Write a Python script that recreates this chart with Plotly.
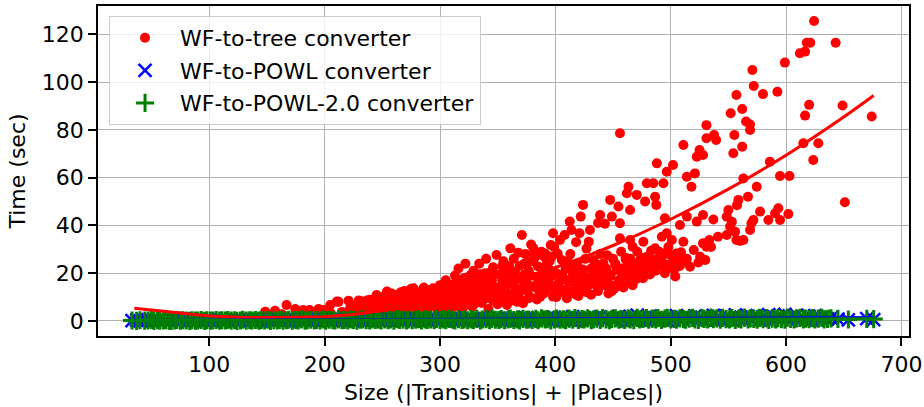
import plotly.graph_objects as go

# ---------------- data ----------------
# WF-to-tree converter: model size vs. time (sec)
tree_size = [
    35, 40, 45, 52, 58, 64, 70, 77, 84, 90, 97, 104, 110, 117, 123, 130, 136, 142,
    148.5, 152, 157, 163, 167, 174.5, 178, 181.5, 187, 190, 194.7, 199,
    204.8, 205, 210.6, 212, 215, 220.7, 222, 226, 229.4, 231, 233, 235, 236.6, 238, 240,
    241, 243, 245, 246.7, 247, 250, 251, 252.5, 253, 254, 256, 258, 261, 261.5, 262,
    265, 267, 269, 271, 273, 275, 277, 278, 279, 280, 282, 284, 286, 288, 290, 292,
    294, 296, 298, 299, 300, 302, 304, 305, 307, 309, 311, 313, 314, 315, 316, 317,
    319, 320, 322, 323, 325, 326, 328, 329, 331, 333, 334, 336, 338, 339, 340, 342,
    343, 345, 346, 348, 349, 350, 352, 353, 355, 356, 358, 359, 360, 361, 362, 364,
    366, 367, 369, 371, 371, 372, 374, 375, 377, 378, 379, 380, 381, 383, 384, 386,
    387, 387, 388, 388, 390, 391, 392.6, 393, 395, 396, 397, 398, 398, 399, 400,
    401, 403, 404, 405.6, 407, 408, 409, 410, 412.5, 412.5, 413, 414, 415, 417, 418,
    419, 420, 421, 422, 422, 424, 424, 426, 428, 429, 430, 431, 431, 433, 433, 435,
    437, 437, 438.8, 439, 440, 441.7, 443, 443, 444.6, 446, 447.5, 448, 449, 450, 451,
    453, 454.7, 455, 456, 456, 456, 457, 459, 462, 462, 463.4, 463, 464.8, 464.8, 465,
    467, 467, 469, 470.6, 471, 473.5, 476, 476.3, 477.8, 478, 479.3, 480, 482, 485,
    485, 486.5, 486.5, 487.5, 488, 490, 492, 492.3, 493.7, 495, 495, 496.6, 496.6, 498,
    501, 502, 502, 502, 504, 505, 508, 508, 511, 511, 514, 514, 514, 516.8, 518, 520,
    521, 522.6, 522.6, 524, 525, 525.5, 528, 528, 528, 530, 531, 531, 531, 533.5, 535,
    537, 537.6, 539.4, 541, 548.6, 548.6, 550, 551.5, 552, 553, 554.3, 555.2, 555.8,
    557, 557, 557.5, 558.7, 560, 562, 562, 563, 563, 565.3, 567, 568.8, 568.8, 568.8,
    570, 570.8, 571.7, 572, 574.6, 577.5, 580, 584.7, 586, 590.5, 592.5, 593.3, 594.8,
    594.8, 599, 602, 603, 612, 615, 616.5, 616.5, 618, 620, 621, 623.6, 624.3, 628,
    643, 649, 651, 674.3,
    226, 232, 248, 257, 263, 270, 274, 283, 287, 291, 295, 301, 306, 310, 318, 321,
    327, 330, 335, 341, 344, 351, 354, 357, 363, 365, 368, 373, 376, 382, 385, 389,
    394, 402, 406, 411, 416, 423, 427, 432, 436, 442, 445, 452, 458, 461, 466, 472,
    474, 481, 483, 489, 494, 499, 506, 509,
    228, 234, 239, 244, 249, 255, 259, 264, 266, 268, 272, 276, 281, 285, 289, 293,
    297, 303, 306, 308, 312, 316, 318, 321, 324, 327, 330, 332, 335, 337, 341, 344,
    347, 351, 354, 357, 360, 363, 365, 368, 370, 373, 376, 379, 382, 385, 389, 392,
    394, 397, 402, 406, 411, 416, 419, 425, 429, 434, 438, 444, 448, 452, 458, 461,
    466, 470, 475, 479, 484, 489, 497, 503, 507,
    300, 304, 310, 313, 319, 322, 326, 331, 334, 338, 342, 346, 349, 352, 355, 358,
    362, 366, 369, 373, 377, 380, 384, 387, 390, 394, 398, 401, 404, 408, 411, 414,
    418, 421, 424, 427, 432, 436, 440, 445, 449, 454, 457, 460, 464, 468, 472, 477,
    481, 487, 493, 500, 510,
]
tree_time = [
    0.5, 0.6, 0.4, 0.7, 0.5, 0.8, 0.6, 0.9, 0.7, 1.0, 0.8, 1.1, 0.9, 1.2, 1.0, 1.3, 1.1, 1.4,
    3.9, 2.5, 4.3, 2.8, 6.7, 5.0, 3.0, 4.6, 4.6, 2.9, 5.0, 4.6,
    6.7, 3.5, 8.1, 8.0, 3.8, 8.5, 5.3, 4.0, 8.6, 8.4, 5.0, 4.2, 8.6, 6.5, 6.0,
    4.3, 9.0, 10.9, 10.0, 7.0, 4.5, 7.0, 10.7, 9.5, 12.3, 5.5, 11.5, 9.6, 8.0, 4.2,
    6.0, 10.0, 12.5, 4.5, 8.0, 13.5, 13.7, 6.0, 10.5, 4.3, 12.0, 7.5, 14.0, 5.0, 9.5, 12.0,
    13.7, 6.5, 4.5, 10.5, 15.0, 8.0, 12.5, 17.0, 5.0, 10.0, 14.0, 19.0, 7.0, 16.5, 22.0, 12.0,
    16.0, 5.5, 24.0, 9.0, 13.5, 19.0, 6.0, 21.0, 11.0, 16.0, 24.0, 7.5, 13.0, 20.0, 26.0, 5.0,
    9.5, 17.0, 22.5, 12.0, 27.6, 7.0, 19.5, 14.5, 25.0, 9.0, 6.7, 21.0, 16.0, 30.4, 11.0, 26.0,
    18.0, 8.0, 23.0, 36.0, 13.0, 7.4, 28.0, 16.0, 21.0, 10.0, 32.0, 25.0, 30.4, 14.0, 18.5, 11.0,
    10.2, 13.0, 22.0, 29.0, 27.0, 28.3, 24.1, 15.0, 25.0, 31.8, 19.0, 36.7, 10.2, 31.0, 13.0,
    20.0, 16.0, 33.9, 25.5, 13.0, 36.0, 22.0, 9.5, 11.7, 41.6, 28.0, 38.1, 18.6, 15.0, 33.0,
    24.0, 10.5, 36.7, 20.0, 43.7, 13.0, 48.6, 26.0, 17.0, 33.2, 38.1, 11.0, 22.0, 15.8, 25.5, 19.0,
    41.0, 12.5, 44.4, 28.0, 21.0, 24.1, 15.0, 40.7, 16.7, 11.5, 50.7, 19.0, 43.7, 26.0, 13.5,
    21.4, 47.9, 17.0, 40.9, 34.6, 78.6, 29.0, 14.0, 22.7, 53.5, 56.2, 18.5, 46.5, 33.9, 26.0,
    15.0, 31.1, 20.0, 52.8, 29.0, 25.5, 17.9, 33.2, 50.0, 22.0, 57.7, 27.0, 19.5, 25.5,
    57.7, 52.0, 30.4, 48.6, 66.0, 29.0, 26.0, 35.3, 57.7, 20.0, 43.0, 62.5, 36.7, 31.0,
    33.9, 26.9, 65.3, 24.1, 18.6, 28.3, 23.0, 40.2, 33.2, 73.7, 60.4, 26.0, 43.7, 22.7, 56.2, 29.7,
    61.8, 68.8, 41.6, 24.5, 71.6, 26.9, 32.5, 69.5, 44.4, 25.5, 82.0, 76.5, 31.1, 33.9, 31.0,
    42.5, 77.9, 75.8, 35.3, 36.0, 43.7, 46.5, 39.5, 87.0, 41.5, 70.2, 77.9, 37.4,
    33.9, 94.6, 48.5, 50.7, 33.5, 73.0, 88.8, 33.9, 59.7, 83.5, 52.0, 38.1, 82.3, 80.0,
    40.9, 105.1, 42.3, 98.4, 56.2, 45.8, 95.0, 42.3, 66.7, 45.1, 96.0, 47.2, 42.3,
    60.7, 108.2, 44.8, 60.7, 112.1, 74.4, 112.8, 86.0, 116.5, 90.5, 116.5, 67.4, 125.6, 74.4,
    116.5, 90.2, 49.7, 85.6,
    6.2, 6.9, 8.3, 7.8, 11.0, 9.0, 11.2, 9.8, 11.6, 6.0, 8.7, 12.8, 9.2, 15.2, 8.6, 18.0,
    11.8, 16.2, 19.6, 14.2, 20.5, 13.2, 23.0, 17.8, 20.1, 14.1, 28.6, 19.3, 24.5, 27.9, 22.8, 17.2,
    20.6, 28.2, 18.4, 25.0, 20.4, 16.0, 30.3, 18.9, 23.6, 19.2, 27.5, 23.4, 21.8, 25.8, 21.9, 18.2,
    23.1, 24.0, 29.4, 23.8, 28.1, 22.4, 25.3, 28.8,
    6.8, 7.2, 8.9, 5.2, 8.8, 6.4, 10.2, 8.5, 12.0, 5.2, 11.0, 9.2, 7.0, 11.2, 13.0, 8.2,
    12.2, 10.5, 14.5, 7.2, 12.0, 9.0, 13.5, 11.5, 16.5, 8.2, 14.0, 19.0, 10.2, 17.0, 12.5, 15.0,
    19.5, 10.5, 17.0, 12.5, 23.0, 15.5, 20.5, 11.5, 17.5, 24.0, 12.5, 19.0, 26.5, 16.0, 19.5, 13.0,
    22.0, 27.0, 14.5, 19.5, 16.5, 22.5, 13.5, 19.0, 15.0, 21.5, 17.0, 22.0, 15.0, 24.0, 19.5, 26.5,
    22.0, 17.5, 20.5, 24.5, 21.0, 26.0, 23.5, 21.5, 26.0,
    6.5, 5.5, 8.0, 6.0, 7.0, 12.5, 10.5, 7.5, 13.5, 9.0, 18.5, 8.5, 14.0, 8.0, 13.0, 17.5,
    8.5, 13.5, 9.5, 15.0, 9.5, 14.5, 9.0, 16.5, 11.5, 17.0, 14.5, 10.0, 12.0, 17.5, 12.5, 21.5,
    11.0, 16.5, 21.5, 12.0, 18.5, 14.5, 17.5, 20.0, 12.5, 14.5, 22.0, 16.5, 21.0, 24.0, 21.5, 26.5,
    23.0, 21.0, 23.0, 27.5, 24.5,
]

# WF-to-POWL and WF-to-POWL-2.0 converters: model size vs. time (sec)
powl_size = [
    33, 37, 40, 44, 47, 50, 52, 55, 57, 60,
    62, 65, 67, 70, 72, 75, 77, 80, 83, 85,
    88, 90, 93, 96, 98, 101, 103, 106, 109, 111,
    114, 116, 119, 122, 124, 127, 129, 132, 135, 137,
    140, 143, 145, 148, 151, 153, 156, 159, 161, 164,
    167, 169, 172, 175, 177, 180, 183, 185, 188, 191,
    193, 196, 199, 201, 204, 207, 209, 212, 215, 217,
    220, 223, 225, 228, 231, 233, 236, 239, 241, 244,
    247, 249, 252, 255, 257, 260, 263, 265, 268, 271,
    273, 276, 279, 281, 284, 287, 289, 292, 295, 297,
    300, 303, 305, 308, 311, 313, 316, 319, 321, 324,
    327, 329, 332, 335, 337, 340, 343, 345, 348, 351,
    353, 356, 359, 361, 364, 367, 369, 372, 375, 377,
    380, 383, 385, 388, 391, 393, 396, 399, 401, 404,
    407, 409, 412, 415, 417, 420, 423, 425, 428, 431,
    433, 436, 439, 441, 444, 447, 449, 452, 455, 457,
    460, 463, 465, 468, 471, 473, 476, 479, 481, 484,
    487, 489, 492, 495, 497, 500, 503, 505, 508, 511,
    513, 516, 519, 521, 524, 527, 529, 532, 535, 537,
    540, 543, 545, 548, 551, 553, 556, 559, 561, 564,
    567, 569, 572, 575, 577, 580, 583, 585, 588, 591,
    593, 596, 599, 601, 604, 607, 609, 612, 615, 617,
    620, 623, 625, 628, 631, 633, 636, 639, 645, 654,
    670, 676,
]
powl_time = [
    0.1, 0.3, 0.0, 0.2, 0.4, 0.1, 0.3, 0.2, 0.0, 0.4,
    0.2, 0.1, 0.3, 0.5, 0.0, 0.2, 0.4, 0.1, 0.3, 0.2,
    0.0, 0.4, 0.2, 0.1, 0.5, 0.3, 0.0, 0.2, 0.4, 0.1,
    0.3, 0.2, 0.5, 0.0, 0.1, 0.4, 0.2, 0.6, 0.1, 0.3,
    0.2, 0.5, 0.0, 0.3, 0.1, 0.4, 0.2, 0.6, 0.3, 0.1,
    0.4, 0.0, 0.5, 0.2, 0.7, 0.1, 0.3, 0.6, 0.2, 0.4,
    0.1, 0.5, 0.3, 0.8, 0.0, 0.4, 0.6, 0.2, 0.5, 0.1,
    0.7, 0.3, 0.0, 0.5, 0.9, 0.2, 0.4, 0.6, 0.1, 0.8,
    0.3, 0.5, 0.0, 0.9, 0.2, 0.6, 0.4, 1.0, 0.1, 0.7,
    0.4, 0.2, 0.8, 0.5, 1.1, 0.0, 0.6, 0.3, 0.9, 0.2,
    0.5, 1.0, 0.1, 0.7, 0.4, 1.2, 0.2, 0.8, 0.3, 0.6,
    1.0, 0.2, 0.7, 0.4, 1.3, 0.1, 0.9, 0.5, 0.3, 1.1,
    0.6, 0.2, 1.0, 0.4, 1.5, 0.3, 0.8, 0.1, 1.2, 0.5,
    0.9, 0.3, 1.4, 0.6, 0.2, 1.1, 0.7, 1.6, 0.4, 0.9,
    0.2, 1.2, 0.6, 1.8, 0.3, 1.0, 0.5, 1.4, 0.1, 0.8,
    1.3, 0.4, 1.7, 0.7, 0.2, 1.5, 0.9, 0.3, 1.9, 0.6,
    1.1, 0.3, 1.6, 0.8, 2.4, 0.5, 1.2, 0.2, 1.8, 0.7,
    1.4, 0.4, 2.0, 0.9, 0.3, 1.6, 0.6, 2.2, 1.0, 0.5,
    1.7, 0.3, 1.2, 2.1, 0.7, 1.5, 0.4, 1.9, 0.9, 2.3,
    0.6, 1.4, 0.3, 2.0, 1.1, 0.5, 2.5, 0.8, 1.6, 0.4,
    1.9, 0.7, 1.3, 2.2, 0.5, 1.7, 0.9, 2.6, 0.3, 1.2,
    2.1, 0.6, 2.8, 1.0, 0.4, 1.8, 2.4, 0.8, 1.5, 0.5,
    1.9, 0.7, 2.2, 1.1, 0.6, 1.6, 0.9, 1.3, 0.8, 0.5,
    1.0, 0.6,
]
powl2_time = [
    0.2, 0.0, 0.3, 0.1, 0.2, 0.4, 0.0, 0.3, 0.1, 0.2,
    0.3, 0.1, 0.0, 0.2, 0.4, 0.1, 0.3, 0.2, 0.0, 0.3,
    0.1, 0.2, 0.4, 0.0, 0.3, 0.1, 0.2, 0.4, 0.1, 0.3,
    0.2, 0.4, 0.1, 0.3, 0.0, 0.2, 0.5, 0.1, 0.3, 0.2,
    0.4, 0.1, 0.3, 0.2, 0.5, 0.0, 0.3, 0.2, 0.4, 0.1,
    0.3, 0.5, 0.1, 0.4, 0.2, 0.6, 0.1, 0.3, 0.5, 0.2,
    0.4, 0.2, 0.6, 0.1, 0.5, 0.3, 0.2, 0.7, 0.3, 0.4,
    0.2, 0.6, 0.4, 0.1, 0.5, 0.7, 0.3, 0.2, 0.6, 0.4,
    0.5, 0.2, 0.7, 0.3, 0.6, 0.1, 0.8, 0.4, 0.5, 0.2,
    0.6, 0.3, 0.5, 0.8, 0.2, 0.7, 0.4, 0.6, 0.3, 0.9,
    0.4, 0.7, 0.3, 0.9, 0.5, 0.2, 0.8, 0.4, 0.6, 0.3,
    0.7, 0.4, 0.9, 0.2, 0.6, 0.8, 0.3, 1.0, 0.5, 0.4,
    0.8, 0.3, 0.6, 1.0, 0.4, 0.7, 0.2, 0.9, 0.5, 0.6,
    0.4, 0.9, 0.3, 1.1, 0.6, 0.8, 0.2, 0.7, 1.0, 0.5,
    0.7, 0.3, 1.0, 0.5, 1.2, 0.4, 0.8, 0.6, 1.1, 0.3,
    0.6, 1.0, 0.4, 1.2, 0.7, 0.3, 0.9, 1.1, 0.5, 0.8,
    0.4, 1.1, 0.7, 0.3, 1.3, 0.6, 0.9, 1.2, 0.5, 1.0,
    0.7, 1.2, 0.4, 1.0, 1.3, 0.6, 0.9, 0.5, 1.1, 0.8,
    0.5, 1.0, 1.3, 0.7, 0.4, 1.2, 0.9, 0.6, 1.4, 0.8,
    1.1, 0.5, 1.3, 0.8, 0.6, 1.2, 0.4, 1.0, 0.7, 1.4,
    0.6, 1.1, 0.9, 0.5, 1.3, 0.8, 1.2, 0.4, 1.0, 0.7,
    1.2, 0.8, 0.5, 1.4, 0.9, 0.6, 1.1, 1.3, 0.7, 1.0,
    0.8, 1.2, 0.6, 1.0, 1.3, 0.7, 0.9, 1.1, 0.9, 0.6,
    0.9, 0.8,
]

# fitted trend curves
tree_fit_size = [35, 75, 100, 125, 150, 175, 200, 250, 300, 350, 400, 450, 500, 550, 600, 650, 676]
tree_fit_time = [5.3, 3.3, 2.1, 1.6, 1.4, 1.6, 1.8, 4.3, 9.0, 14.8, 22.4, 31.6, 42.6, 55.2, 69.4, 85.4, 94.4]
powl_fit_size = [35, 676]
powl_fit_time = [0.2, 1.4]
powl2_fit_size = [35, 676]
powl2_fit_time = [0.15, 0.95]

x_ticks = [100, 200, 300, 400, 500, 600, 700]
y_ticks = [0, 20, 40, 60, 80, 100, 120]

# ---------------- figure ----------------
FONT = "DejaVu Sans"
FS = 22

fig = go.Figure()
fig.add_trace(go.Scatter(
    x=tree_size, y=tree_time, mode="markers", name="WF-to-tree converter",
    legendgroup="a",
    marker=dict(symbol="circle", size=10, color="red", line=dict(width=0)),
))
fig.add_trace(go.Scatter(
    x=powl_size, y=powl_time, mode="markers", name="WF-to-POWL converter",
    legendgroup="b",
    marker=dict(symbol="x-thin", size=13, color="blue", line=dict(width=2.5, color="blue")),
))
fig.add_trace(go.Scatter(
    x=powl_size, y=powl2_time, mode="markers", name="WF-to-POWL-2.0 converter",
    legendgroup="c",
    marker=dict(symbol="cross-thin", size=13, color="green", line=dict(width=3, color="green")),
))
fig.add_trace(go.Scatter(
    x=tree_fit_size, y=tree_fit_time, mode="lines", showlegend=False,
    line=dict(color="red", width=3, shape="spline"), hoverinfo="skip",
))
fig.add_trace(go.Scatter(
    x=powl_fit_size, y=powl_fit_time, mode="lines", showlegend=False,
    line=dict(color="blue", width=3), hoverinfo="skip",
))
fig.add_trace(go.Scatter(
    x=powl2_fit_size, y=powl2_fit_time, mode="lines", showlegend=False,
    line=dict(color="green", width=3), hoverinfo="skip",
))

axis_common = dict(
    showgrid=True, gridcolor="#b0b0b0", gridwidth=1.3,
    showline=True, linecolor="black", linewidth=1.6, mirror=True,
    ticks="outside", ticklen=8, tickwidth=1.5, tickcolor="black",
    tickfont=dict(family=FONT, size=FS, color="black"),
    zeroline=False, automargin=False,
)

fig.update_layout(
    width=924, height=407, autosize=False,
    margin=dict(l=98, r=15, t=6, b=71),
    paper_bgcolor="white", plot_bgcolor="white",
    font=dict(family=FONT, size=FS, color="black"),
    xaxis=dict(
        range=[3.5, 706.6], tickvals=x_ticks, ticktext=[str(v) for v in x_ticks],
        title=dict(text="Size (|Transitions| + |Places|)", font=dict(family=FONT, size=FS), standoff=8),
        **axis_common,
    ),
    yaxis=dict(
        range=[-6.3, 131.9], tickvals=y_ticks, ticktext=[str(v) for v in y_ticks],
        title=dict(text="Time (sec)", font=dict(family=FONT, size=FS), standoff=10),
        **axis_common,
    ),
    legend=dict(
        x=0.0136, y=0.97, xanchor="left", yanchor="top",
        bgcolor="rgba(255,255,255,0.8)", bordercolor="#cccccc", borderwidth=1,
        font=dict(family=FONT, size=FS, color="black"),
        tracegroupgap=1, itemwidth=60,
    ),
    showlegend=True,
)

fig.write_html(
    "out.html",
    config={"displayModeBar": False},
    post_script="document.body.style.margin='0';",
)
